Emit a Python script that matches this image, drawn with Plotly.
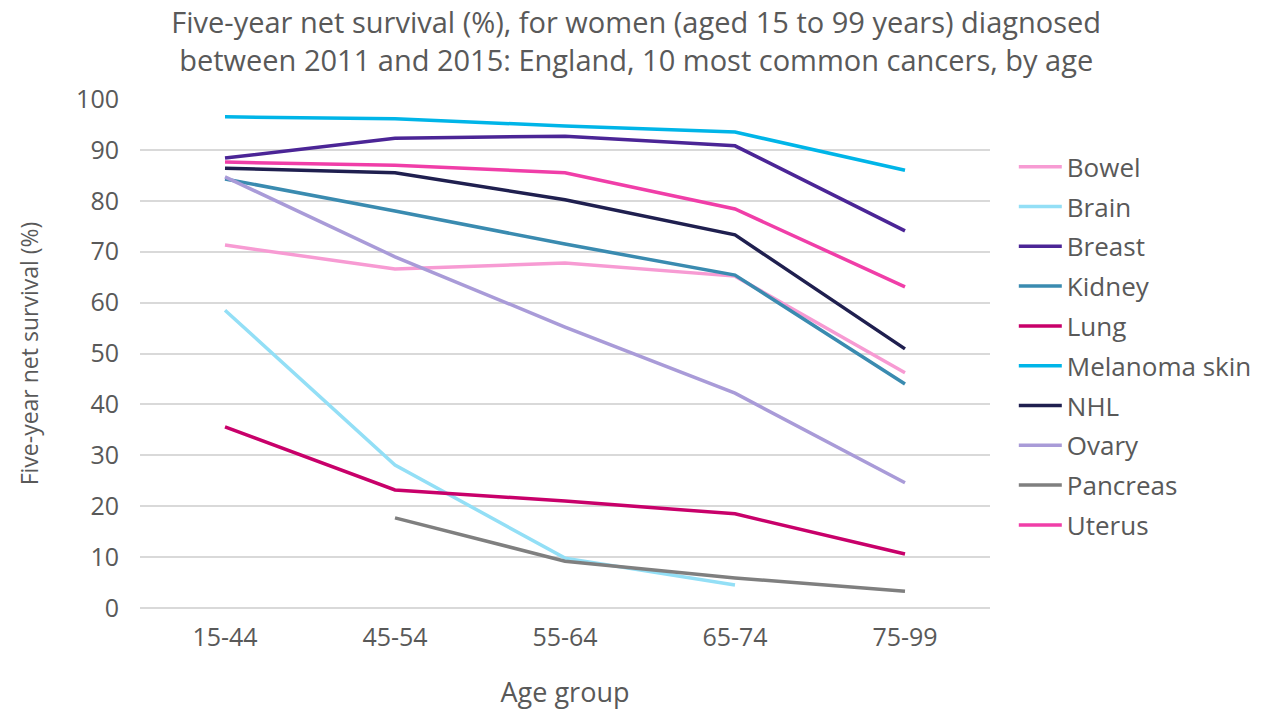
import plotly.graph_objects as go

age_groups = ["15-44", "45-54", "55-64", "65-74", "75-99"]

cancers = ["Bowel", "Brain", "Breast", "Kidney", "Lung", "Melanoma skin",
           "NHL", "Ovary", "Pancreas", "Uterus"]

bowel = [71.3, 66.6, 67.8, 65.2, 46.2]
brain = [58.5, 28.1, 9.8, 4.5, None]
breast = [88.4, 92.3, 92.7, 90.8, 74.1]
kidney = [84.3, 78.0, 71.5, 65.4, 44.0]
lung = [35.6, 23.2, 21.0, 18.5, 10.6]
melanoma = [96.5, 96.1, 94.7, 93.5, 86.0]
nhl = [86.4, 85.5, 80.2, 73.3, 50.9]
ovary = [84.7, 69.0, 55.2, 42.2, 24.6]
pancreas = [None, 17.7, 9.2, 5.9, 3.3]
uterus = [87.6, 87.0, 85.5, 78.4, 63.1]

series = [bowel, brain, breast, kidney, lung, melanoma, nhl, ovary, pancreas, uterus]
colors = ["#f79bd3", "#93dff6", "#4b2596", "#3a8bb0", "#c8006a", "#00b5e8",
          "#1f1f4f", "#a99bd8", "#7f7f7f", "#f03ea8"]

fig = go.Figure()
for name, vals, col in zip(cancers, series, colors):
    fig.add_trace(go.Scatter(
        x=age_groups, y=vals, name=name, mode="lines",
        line=dict(color=col, width=3.5), legendgroup=name,
        connectgaps=False,
    ))

font_family = "'Open Sans', Lato, sans-serif"
fig.update_layout(
    width=1264, height=711,
    paper_bgcolor="white", plot_bgcolor="white",
    margin=dict(l=132, r=282, t=91, b=111, autoexpand=False),
    font=dict(family=font_family, color="#595959", size=24),
    title=dict(
        text="Five-year net survival (%), for women (aged 15 to 99 years) diagnosed<br>between 2011 and 2015: England, 10 most common cancers, by age",
        x=0.497, xanchor="center", y=0.965, yanchor="middle",
        font=dict(size=29, color="#595959", family=font_family),
    ),
    xaxis=dict(
        title=dict(text="Age group", font=dict(size=27), standoff=31),
        range=[-0.5, 4.5], automargin=False,
        showgrid=False, showline=False, ticks="", zeroline=False,
        tickfont=dict(size=25), ticklabelstandoff=12,
    ),
    yaxis=dict(
        title=dict(text="Five-year net survival (%)", font=dict(size=23), standoff=31),
        range=[0, 100], dtick=10, showgrid=True, gridcolor="#d9d9d9", gridwidth=1.5,
        zeroline=True, zerolinecolor="#d9d9d9", zerolinewidth=1.5, automargin=False,
        showline=False, ticks="", tickfont=dict(size=25), ticklabelstandoff=20,
    ),
    legend=dict(
        x=1.028, xanchor="left", y=0.913, yanchor="top",
        font=dict(size=26, color="#595959"),
        itemwidth=43,
        tracegroupgap=3, bgcolor="rgba(0,0,0,0)",
    ),
    showlegend=True,
)

fig.write_html("out.html")
